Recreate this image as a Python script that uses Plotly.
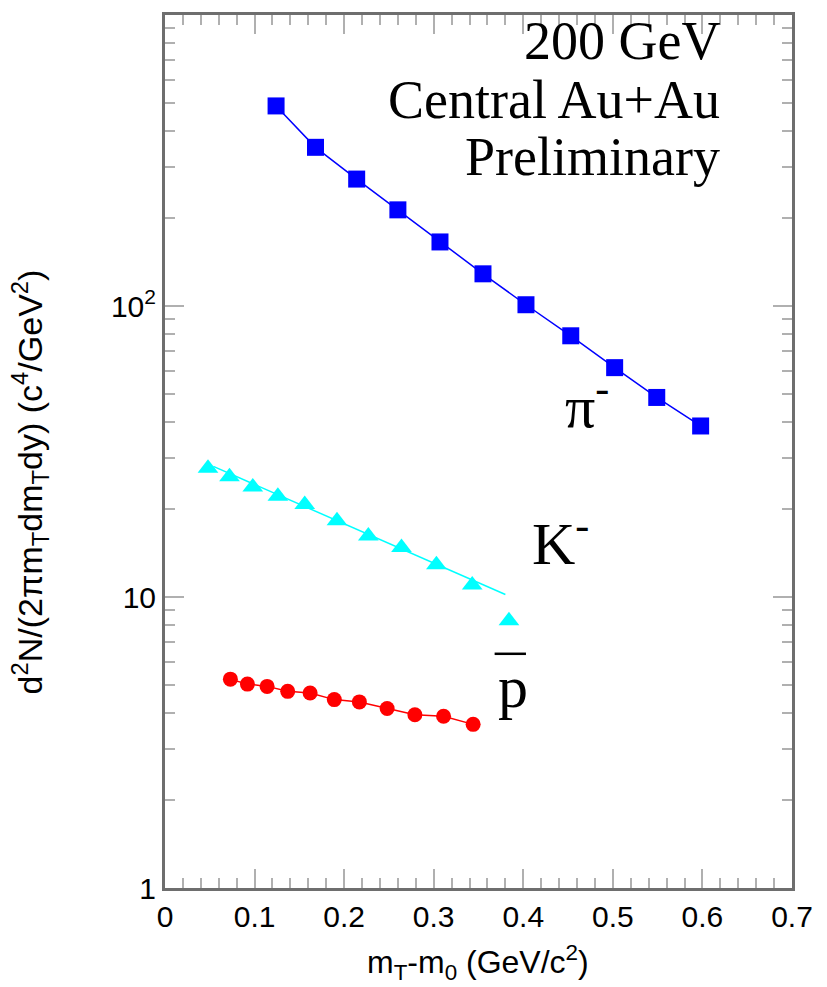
import plotly.graph_objects as go

# ---- data ----
pi_x = [0.124, 0.168, 0.214, 0.260, 0.307, 0.355, 0.403, 0.453, 0.502, 0.549, 0.598]
pi_y = [487, 351, 273, 214, 166, 129, 101, 79, 61.4, 48.5, 38.7]

k_x = [0.048, 0.072, 0.098, 0.126, 0.156, 0.192, 0.227, 0.264, 0.303, 0.343, 0.384]
k_y = [27.7, 25.9, 23.9, 22.2, 20.8, 18.3, 16.2, 14.8, 12.9, 11.0, 8.28]
k_fit_x = [0.054, 0.380]
k_fit_y = [28.1, 10.2]

p_x = [0.073, 0.092, 0.114, 0.137, 0.162, 0.189, 0.217, 0.248, 0.279, 0.311, 0.344]
p_y = [5.22, 5.02, 4.93, 4.74, 4.68, 4.44, 4.36, 4.14, 3.94, 3.89, 3.65]

x_ticks = [0, 0.1, 0.2, 0.3, 0.4, 0.5, 0.6, 0.7]
x_ticktext = ["0", "0.1", "0.2", "0.3", "0.4", "0.5", "0.6", "0.7"]
y_ticks = [1, 10, 100]
y_ticktext = ["1", "10", "10<sup>2</sup>"]
y_minor = [m * 10 ** e for e in range(0, 3) for m in range(2, 10)]

BLUE = "#0000ff"
CYAN = "#00ffff"
RED = "#ff0000"

fig = go.Figure()

fig.add_trace(go.Scatter(x=pi_x, y=pi_y, mode="lines+markers",
                         line=dict(color=BLUE, width=1.5),
                         marker=dict(symbol="square", size=17, color=BLUE),
                         showlegend=False))
fig.add_trace(go.Scatter(x=k_fit_x, y=k_fit_y, mode="lines",
                         line=dict(color=CYAN, width=1.5), showlegend=False))
fig.add_trace(go.Scatter(x=k_x, y=k_y, mode="markers",
                         marker=dict(symbol="triangle-up", size=18, color=CYAN),
                         showlegend=False))
fig.add_trace(go.Scatter(x=p_x, y=p_y, mode="lines+markers",
                         line=dict(color=RED, width=1.5),
                         marker=dict(symbol="circle", size=15, color=RED),
                         showlegend=False))

axis_common = dict(
    showline=True, linecolor="#6e6e6e", linewidth=3, mirror="ticks",
    ticks="inside", tickcolor="#b0b0b0", tickwidth=1.5, ticklen=19,
    showgrid=False, zeroline=False,
    tickfont=dict(family="Liberation Sans, Arial", size=30, color="black"),
)

fig.update_xaxes(range=[0, 0.7], tickvals=x_ticks, ticktext=x_ticktext,
                 minor=dict(ticks="inside", dtick=0.02, ticklen=10,
                            tickcolor="#b0b0b0", tickwidth=1.5),
                 **axis_common)
fig.update_yaxes(type="log", range=[0, 3], tickvals=y_ticks, ticktext=y_ticktext,
                 minor=dict(ticks="inside", tickvals=y_minor, ticklen=10,
                            tickcolor="#b0b0b0", tickwidth=1.5),
                 **axis_common)

serif = "Liberation Serif, Times New Roman, serif"
sans = "Liberation Sans, Arial, sans-serif"
ann = []
for txt, yp in [("200 GeV", 0.970), ("Central Au+Au", 0.903), ("Preliminary", 0.837)]:
    ann.append(dict(text=txt, xref="paper", yref="paper", x=0.888, y=yp,
                    xanchor="right", yanchor="middle", showarrow=False,
                    font=dict(family=serif, size=54, color="black")))
ann.append(dict(text="π<sup>-</sup>", x=0.4715, y=1.668, xref="x", yref="y",
                showarrow=False, font=dict(family=serif, size=60, color="black")))
ann.append(dict(text="K<sup>-</sup>", x=0.441, y=1.198, xref="x", yref="y",
                showarrow=False, font=dict(family=serif, size=60, color="black")))
ann.append(dict(text="p", x=0.388, y=0.692, xref="x", yref="y",
                showarrow=False, font=dict(family=serif, size=60, color="black")))
ann.append(dict(text="d<sup>2</sup>N/(2πm<sub>T</sub>dm<sub>T</sub>dy) (c<sup>4</sup>/GeV<sup>2</sup>)",
                xref="paper", yref="paper", x=0, y=0.4646, xshift=-135,
                textangle=-90, showarrow=False, xanchor="center", yanchor="middle",
                font=dict(family=sans, size=34, color="black")))
ann.append(dict(text="m<sub>T</sub>-m<sub>0</sub> (GeV/c<sup>2</sup>)",
                xref="paper", yref="paper", x=0.499, y=0, yshift=-74,
                showarrow=False, xanchor="center", yanchor="middle",
                font=dict(family=sans, size=32, color="black")))

fig.update_layout(
    width=827, height=987,
    margin=dict(l=165, r=35, t=12, b=99),
    paper_bgcolor="white", plot_bgcolor="white",
    annotations=ann,
    shapes=[dict(type="line", xref="x", yref="y", x0=0.368, x1=0.403,
                 y0=6.38, y1=6.38, line=dict(color="black", width=2.5))],
)

fig.write_html("out.html")
